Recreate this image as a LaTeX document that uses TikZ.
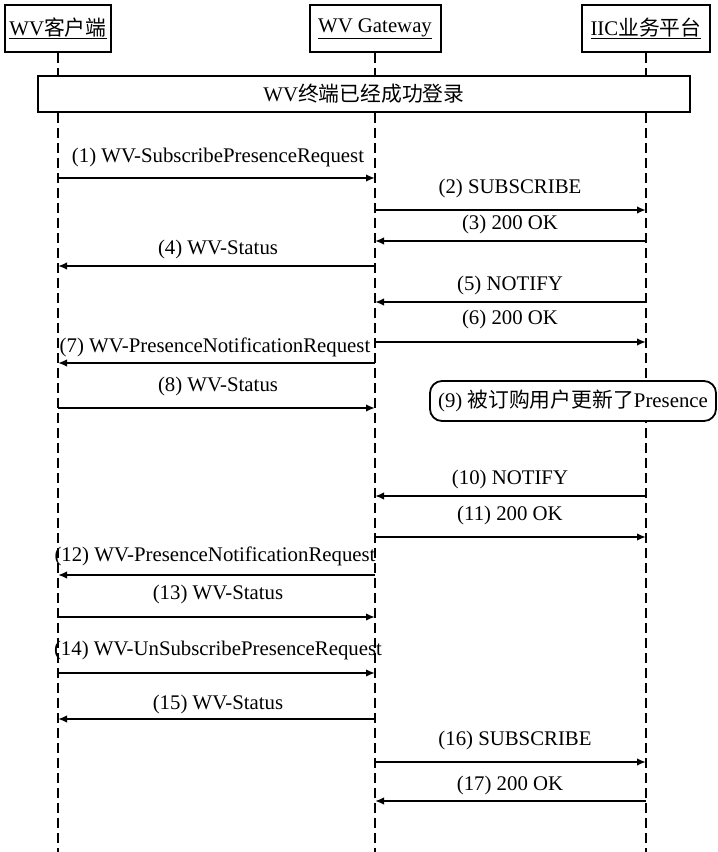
\documentclass[tikz,border=0pt]{standalone}
\usepackage{fontspec}
\setmainfont{Liberation Serif}
\newfontfamily\cjk{Noto Sans CJK SC}
\usetikzlibrary{arrows.meta}
\newcommand\msgline[7]{%
  \coordinate (m#1a) at (#2,#4);
  \coordinate (m#1b) at (#3,#4);
  \draw[msg] (m#1a) -- (m#1b);
  \node[txt] (l#1) at (#5,#6) {#7};}
\begin{document}
\begin{tikzpicture}[x=1pt,y=-1pt,
  txt/.style={font=\fontsize{20.8}{24}\selectfont, inner sep=0pt},
  head/.style={draw, line width=2pt, minimum height=47pt, txt},
  life/.style={line width=2.4pt, dash pattern=on 10pt off 5pt},
  msg/.style={line width=1.9pt, -{Latex[length=9pt,width=7.5pt]}}]
\useasboundingbox (0,0) rectangle (718,852);
% headers
\node[head, minimum width=106pt] (hc) at (58,28.5) {\underline{WV{\cjk 客户端}}};
\node[head, minimum width=131pt] (hg) at (375,28.5) {\underline{WV Gateway}};
\node[head, minimum width=128pt] (hi) at (646,28.5) {\underline{IIC{\cjk 业务平台}}};
% lifelines
\coordinate (ec) at (58,852);
\coordinate (eg) at (375,852);
\coordinate (ei) at (646,852);
\draw[life] (hc.south) -- (ec);
\draw[life] (hg.south) -- (eg);
\draw[life] (hi.south) -- (ei);
% banner
\node[draw, fill=white, line width=2pt, minimum width=652pt, minimum height=36pt, txt] (ban) at (364,94) {WV{\cjk 终端已经成功登录}};
% messages
\msgline{1}{58}{375}{178}{218}{157}{(1) WV-SubscribePresenceRequest}
\msgline{2}{375}{646}{210}{510}{188}{(2) SUBSCRIBE}
\msgline{3}{646}{375}{241}{510}{224}{(3) 200 OK}
\msgline{4}{375}{58}{266}{218}{249}{(4) WV-Status}
\msgline{5}{646}{375}{302}{510}{285}{(5) NOTIFY}
\msgline{6}{375}{646}{342}{510}{319}{(6) 200 OK}
\msgline{7}{375}{58}{363}{215}{347}{(7) WV-PresenceNotificationRequest}
\msgline{8}{58}{375}{408}{218}{386}{(8) WV-Status}
\msgline{10}{646}{375}{496}{510}{479}{(10) NOTIFY}
\msgline{11}{375}{646}{537}{510}{515}{(11) 200 OK}
\msgline{12}{375}{58}{575}{215}{556}{(12) WV-PresenceNotificationRequest}
\msgline{13}{58}{375}{617}{218}{594}{(13) WV-Status}
\msgline{14}{58}{375}{673}{218}{650}{(14) WV-UnSubscribePresenceRequest}
\msgline{15}{375}{58}{719}{218}{704}{(15) WV-Status}
\msgline{16}{375}{646}{762}{515}{740}{(16) SUBSCRIBE}
\msgline{17}{646}{375}{801}{510}{785}{(17) 200 OK}
% note 9
\node[draw, fill=white, rounded corners=12pt, line width=1.8pt, minimum width=286pt, minimum height=40pt, txt] (n9) at (573,401) {(9) {\cjk 被订购用户更新了}Presence};
\end{tikzpicture}
\end{document}
